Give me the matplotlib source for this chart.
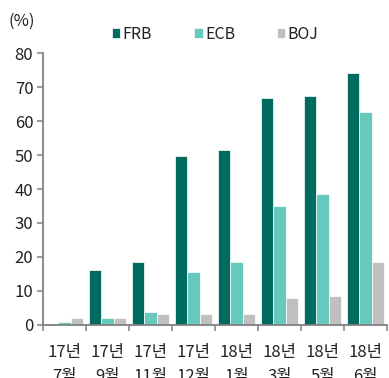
import matplotlib
matplotlib.use("Agg")
import matplotlib.pyplot as plt
import numpy as np

plt.rcParams['font.family'] = ['Noto Sans CJK KR', 'DejaVu Sans']
plt.rcParams['font.weight'] = 'light'

categories = ["17년\n7월", "17년\n9월", "17년\n11월", "17년\n12월",
              "18년\n1월", "18년\n3월", "18년\n5월", "18년\n6월"]
series_names = ["FRB", "ECB", "BOJ"]
frb = [0, 16.0, 18.4, 49.7, 51.4, 66.7, 67.3, 74.3]
ecb = [0.8, 2.0, 3.7, 15.5, 18.4, 34.9, 38.5, 62.7]
boj = [2.0, 2.0, 3.2, 3.1, 3.1, 7.8, 8.4, 18.4]
colors = ["#006B5F", "#66C9BB", "#C0C0C0"]
yticks = [0, 10, 20, 30, 40, 50, 60, 70, 80]

W, H = 389, 378
fig = plt.figure(figsize=(W / 100, H / 100), dpi=100)
ax = fig.add_axes([43 / W, 1 - 324.7 / H, 344 / W, 271.4 / H])

x = np.arange(len(categories))
bw = 0.29
for i, (vals, name, c) in enumerate(zip([frb, ecb, boj], series_names, colors)):
    ax.bar(x + (i - 1) * bw, vals, width=bw, color=c, label=name,
           edgecolor="white", linewidth=0.5)

ax.set_xlim(-0.5, len(categories) - 0.5)
ax.set_ylim(0, 80)
ax.set_yticks(yticks)
ax.set_xticks(x)
ax.set_xticklabels(categories, fontsize=12, linespacing=1.5, color="#222222")
ax.set_xticks(np.arange(-0.5, len(categories)), minor=True)
ax.tick_params(axis="x", which="major", length=0, pad=14)
ax.tick_params(axis="x", which="minor", length=4, width=1.1, color="#808080")
ax.tick_params(axis="y", length=4, width=1.1, color="#808080", labelsize=12,
               labelcolor="#222222", pad=3)

for s in ["top", "right"]:
    ax.spines[s].set_visible(False)
for s in ["left", "bottom"]:
    ax.spines[s].set_color("#808080")
    ax.spines[s].set_linewidth(1.3)

leg = ax.legend(loc="center", bbox_to_anchor=(0.5, 1.071), ncol=3, frameon=False,
                handlelength=0.55, handleheight=0.55, handletextpad=0.15,
                columnspacing=2.6, fontsize=11.5, borderaxespad=0)
for t in leg.get_texts():
    t.set_color("#222222")

fig.text(22 / W, 1 - 21 / H, "(%)", ha="center", va="center", fontsize=12,
         color="#222222")

fig.savefig("out.png", dpi=100)
